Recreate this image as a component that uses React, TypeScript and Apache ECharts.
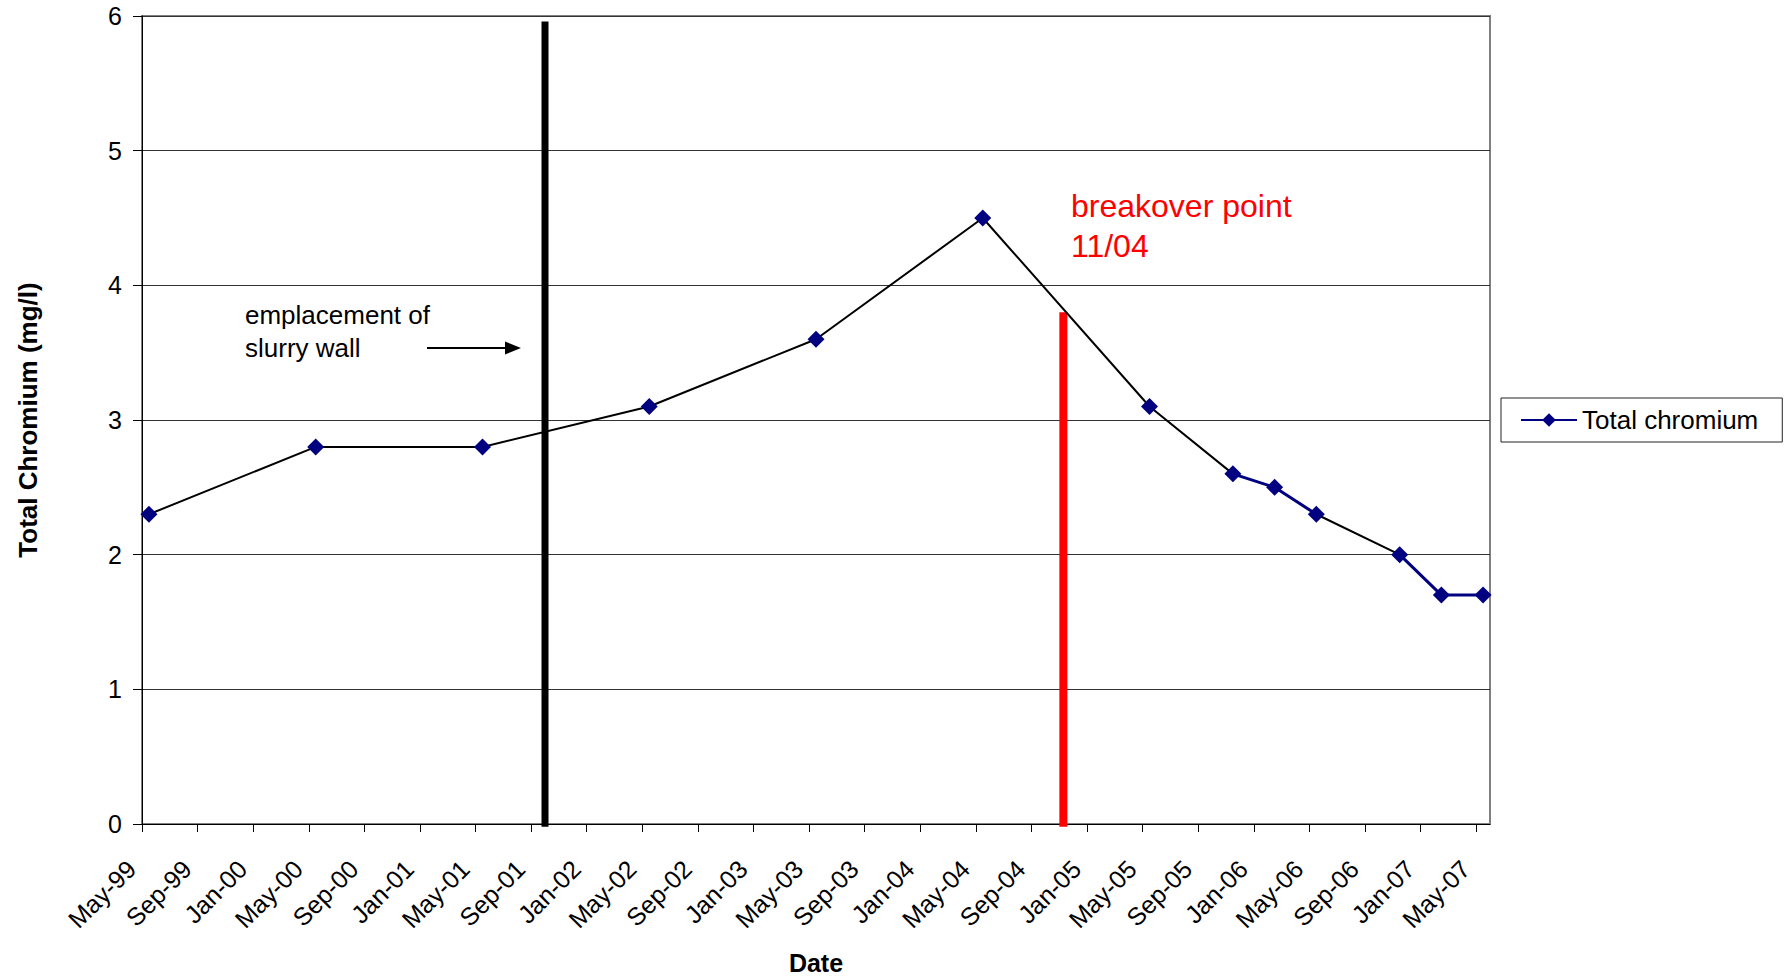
import React, { useEffect, useRef } from "react";
import * as echarts from "echarts";

// Tick labels of the date axis (one every 4 months, starting May 1999)
const monthLabels = [
  "May-99", "Sep-99", "Jan-00", "May-00", "Sep-00", "Jan-01", "May-01",
  "Sep-01", "Jan-02", "May-02", "Sep-02", "Jan-03", "May-03", "Sep-03",
  "Jan-04", "May-04", "Sep-04", "Jan-05", "May-05", "Sep-05", "Jan-06",
  "May-06", "Sep-06", "Jan-07", "May-07",
];
// Sample dates, in months since 1 May 1999
const sampleMonths = [0.5, 12.5, 24.5, 36.5, 48.5, 60.5, 72.5, 78.5, 81.5, 84.5, 90.5, 93.5, 96.5];
// Total chromium (mg/l)
const chromium = [2.3, 2.8, 2.8, 3.1, 3.6, 4.5, 3.1, 2.6, 2.5, 2.3, 2.0, 1.7, 1.7];
// Event markers (months since May 1999, height in mg/l)
const wallMonth = 29;
const wallTop = 5.96;
const breakoverMonth = 66.3;
const breakoverTop = 3.8;
const yTicks = [0, 1, 2, 3, 4, 5, 6];

const FONT = "'Liberation Sans', Arial, Helvetica, sans-serif";
const LONG_GAP = 6; // segments spanning >= 6 months drawn as thin black

export default function App() {
  const ref = useRef<HTMLDivElement>(null);

  useEffect(() => {
    document.body.style.margin = "0";
    if (!ref.current) return;
    const chart = echarts.init(ref.current, undefined, { renderer: "svg" });

    const xTicks = monthLabels.map((_, i) => i * 4);
    const pts = sampleMonths.map((m, i) => [m, chromium[i]]);

    // navy: short segments (and all markers); black: long segments
    const navy: any[] = [];
    const black: any[] = [];
    for (let i = 0; i < pts.length; i++) {
      navy.push(pts[i]);
      if (i < pts.length - 1) {
        const long = pts[i + 1][0] - pts[i][0] >= LONG_GAP;
        if (long) {
          navy.push([pts[i][0], "-"]);
          const last = black[black.length - 1];
          if (!(last && last[0] === pts[i][0] && last[1] === pts[i][1])) {
            if (black.length) black.push([pts[i][0], "-"]);
            black.push(pts[i]);
          }
          black.push(pts[i + 1]);
        }
      }
    }

    chart.setOption({
      animation: false,
      textStyle: { fontFamily: FONT },
      grid: {
        left: 142,
        right: 296,
        top: 16,
        bottom: 154,
        show: true,
        borderColor: "#808080",
        borderWidth: 2,
        backgroundColor: "#fff",
        containLabel: false,
        outerBoundsMode: "none",
      },
      legend: {
        data: ["Total chromium"],
        left: 1501,
        top: 398,
        orient: "vertical",
        itemWidth: 56,
        itemHeight: 17,
        padding: [9, 24, 9, 19],
        borderColor: "#222",
        borderWidth: 1,
        borderRadius: 0,
        backgroundColor: "#fff",
        textStyle: { fontSize: 26, color: "#000", fontFamily: FONT },
        selectedMode: false,
      },
      xAxis: {
        type: "value",
        min: 0,
        max: 97,
        interval: 4,
        name: "Date",
        nameLocation: "middle",
        nameGap: 126,
        nameMoveOverlap: false,
        nameTextStyle: { fontSize: 25, fontWeight: "bold", color: "#000", fontFamily: FONT },
        axisLine: { show: true, onZero: false, lineStyle: { color: "#000", width: 1 } },
        axisTick: { show: true, length: 8, customValues: xTicks, lineStyle: { color: "#000" } },
        axisLabel: {
          customValues: xTicks,
          rotate: 45,
          fontSize: 25,
          color: "#000",
          margin: 30,
          padding: [0, 15, 0, 0],
          fontFamily: FONT,
          formatter: (v: number) => monthLabels[Math.round(v / 4)] ?? "",
        },
        splitLine: { show: false },
      },
      yAxis: {
        type: "value",
        min: 0,
        max: 6,
        interval: 1,
        name: "Total Chromium (mg/l)",
        nameLocation: "middle",
        nameGap: 101,
        nameMoveOverlap: false,
        nameTextStyle: { fontSize: 26, fontWeight: "bold", color: "#000", fontFamily: FONT },
        axisLine: { show: true, lineStyle: { color: "#000", width: 1 } },
        axisTick: { show: true, length: 9, lineStyle: { color: "#000" } },
        axisLabel: {
          fontSize: 25,
          color: "#000",
          margin: 20,
          fontFamily: FONT,
          formatter: (v: number) => (yTicks.includes(v) ? String(v) : ""),
        },
        splitLine: { show: true, lineStyle: { color: "#333", width: 1 } },
      },
      series: [
        {
          name: "wall",
          type: "line",
          data: [[wallMonth, -0.02], [wallMonth, wallTop]],
          symbol: "none",
          silent: true,
          clip: false,
          z: 1,
          lineStyle: { color: "#000", width: 7 },
        },
        {
          name: "breakover",
          type: "line",
          data: [[breakoverMonth, -0.02], [breakoverMonth, breakoverTop]],
          symbol: "none",
          silent: true,
          clip: false,
          z: 1,
          lineStyle: { color: "#ff0000", width: 8 },
        },
        {
          name: "long segments",
          type: "line",
          data: black,
          symbol: "none",
          silent: true,
          connectNulls: false,
          z: 2,
          lineStyle: { color: "#000", width: 2 },
        },
        {
          name: "Total chromium",
          type: "line",
          data: navy,
          connectNulls: false,
          symbol: "diamond",
          symbolSize: 17,
          showAllSymbol: true,
          z: 3,
          itemStyle: { color: "#000080" },
          lineStyle: { color: "#000080", width: 3 },
        },
      ],
      graphic: [
        {
          type: "text",
          z: 10,
          style: {
            x: 245,
            y: 331,
            text: "emplacement of\nslurry wall",
            fontSize: 26,
            lineHeight: 33,
            fontFamily: FONT,
            fill: "#000",
            textAlign: "left",
            textVerticalAlign: "middle",
          },
        },
        {
          type: "line",
          z: 10,
          shape: { x1: 427, y1: 348, x2: 507, y2: 348 },
          style: { stroke: "#000", lineWidth: 2 },
        },
        {
          type: "polygon",
          z: 10,
          shape: { points: [[521, 348], [505, 341.5], [505, 354.5]] },
          style: { fill: "#000" },
        },
        {
          type: "text",
          z: 10,
          style: {
            x: 1071,
            y: 226,
            text: "breakover point\n11/04",
            fontSize: 32,
            lineHeight: 40,
            fontFamily: FONT,
            fill: "#ff0000",
            textAlign: "left",
            textVerticalAlign: "middle",
          },
        },
      ],
    });

    return () => chart.dispose();
  }, []);

  return <div ref={ref} style={{ width: 1786, height: 978, background: "#fff" }} />;
}
